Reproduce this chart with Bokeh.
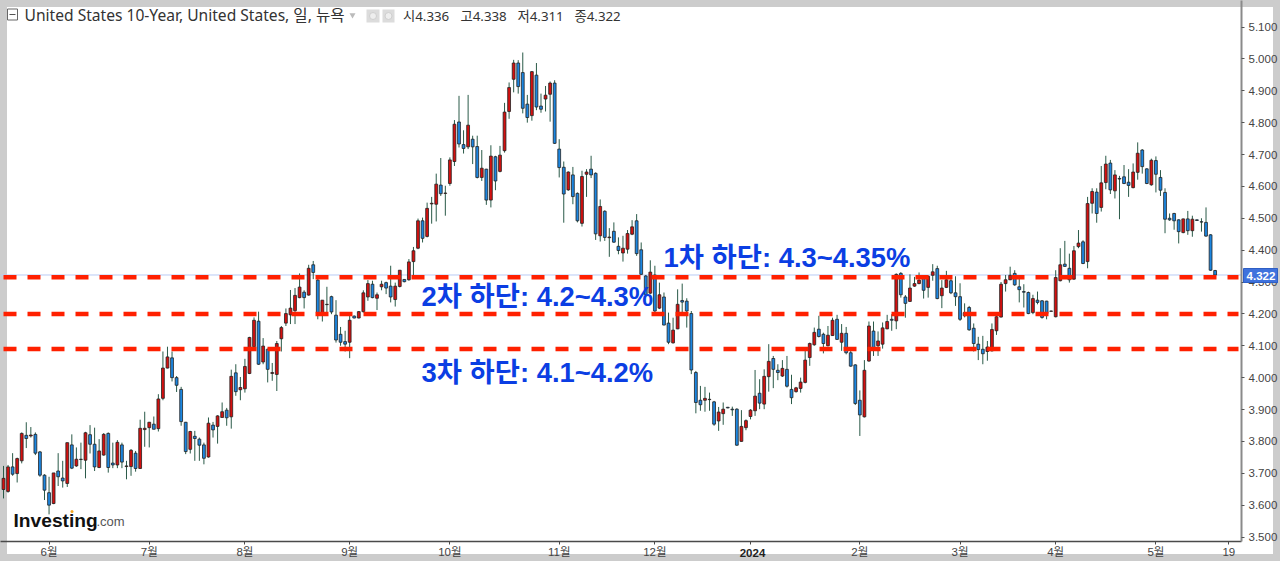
from bokeh.plotting import figure
from bokeh.models import (ColumnDataSource, FixedTicker, NumeralTickFormatter, Label,
                          LinearAxis, Range1d)
from bokeh.embed import file_html
from bokeh.resources import INLINE

opens = [
3.649,3.643,3.720,3.699,3.739,3.819,3.817,3.822,3.767,3.694,
3.639,3.605,3.707,3.685,3.668,3.789,3.723,3.743,3.741,3.821,
3.791,3.718,3.757,3.825,3.732,3.726,3.789,3.721,3.721,3.763,
3.715,3.837,3.843,3.854,3.840,3.935,4.030,4.062,4.000,3.963,
3.860,3.775,3.816,3.807,3.789,3.751,3.851,3.847,3.875,3.898,
3.877,4.015,3.962,3.965,4.013,4.097,4.177,4.049,4.089,4.013,
4.010,4.122,4.171,4.197,4.210,4.251,4.268,4.259,4.354,4.306,
4.204,4.229,4.254,4.196,4.136,4.113,4.111,4.193,4.187,4.207,
4.253,4.293,4.249,4.285,4.298,4.287,4.245,4.286,4.308,4.307,
4.364,4.406,4.492,4.443,4.545,4.544,4.604,4.578,4.609,4.678,
4.802,4.731,4.724,4.748,4.725,4.628,4.654,4.557,4.693,4.647,
4.712,4.835,4.936,4.987,4.957,4.858,4.822,4.949,4.852,4.874,
4.889,4.924,4.717,4.660,4.589,4.636,4.578,4.484,4.638,4.654,
4.641,4.445,4.522,4.439,4.459,4.412,4.391,4.403,4.450,4.492,
4.401,4.319,4.265,4.322,4.218,4.253,4.171,4.109,4.153,4.242,
4.240,4.201,4.016,3.929,3.929,3.931,3.924,3.864,3.887,3.907,
3.901,3.901,3.800,3.843,3.878,3.896,3.951,3.917,4.003,4.060,
4.023,4.005,4.026,3.963,3.956,3.966,3.985,4.063,4.103,4.152,
4.136,4.100,4.132,4.183,4.111,4.139,4.078,4.040,3.929,3.877,
4.052,4.146,4.100,4.105,4.153,4.183,4.178,4.327,4.253,4.239,
4.287,4.295,4.317,4.283,4.321,4.342,4.257,4.283,4.304,4.266,
4.254,4.204,4.220,4.155,4.105,4.089,4.082,4.084,4.147,4.190,
4.295,4.307,4.327,4.285,4.270,4.267,4.204,4.243,4.241,4.240,
4.208,4.191,4.304,4.356,4.343,4.309,4.411,4.426,4.364,4.547,
4.582,4.534,4.612,4.673,4.586,4.625,4.630,4.613,4.596,4.644,
4.714,4.655,4.605,4.681,4.628,4.581,4.500,4.515,4.495,4.455,
4.498,4.461,4.495,4.489,4.487,4.448,4.336,
]
highs = [
3.723,3.726,3.763,3.749,3.828,3.860,3.845,3.828,3.770,3.697,
3.689,3.701,3.763,3.739,3.796,3.822,3.781,3.796,3.830,3.851,
3.843,3.807,3.826,3.828,3.796,3.804,3.796,3.739,3.776,3.770,
3.868,3.893,3.861,3.878,3.948,4.082,4.097,4.082,4.005,3.971,
3.861,3.833,3.833,3.812,3.796,3.875,3.861,3.882,3.922,3.905,
4.025,4.042,4.002,4.059,4.128,4.189,4.207,4.124,4.091,4.046,
4.115,4.162,4.217,4.275,4.281,4.327,4.274,4.354,4.366,4.319,
4.243,4.285,4.257,4.243,4.159,4.147,4.194,4.195,4.209,4.274,
4.306,4.304,4.267,4.304,4.301,4.351,4.298,4.337,4.309,4.372,
4.410,4.499,4.502,4.549,4.567,4.640,4.689,4.602,4.691,4.808,
4.884,4.776,4.887,4.759,4.759,4.714,4.655,4.729,4.696,4.727,
4.862,4.926,4.997,4.996,5.020,4.887,4.962,4.987,4.891,4.915,
4.929,4.933,4.748,4.678,4.647,4.661,4.581,4.649,4.654,4.696,
4.644,4.559,4.525,4.469,4.487,4.440,4.445,4.463,4.494,4.513,
4.424,4.322,4.368,4.351,4.298,4.267,4.204,4.188,4.277,4.295,
4.249,4.209,4.021,3.974,3.971,3.953,3.927,3.908,3.922,3.908,
3.909,3.904,3.898,3.869,3.901,4.024,3.995,4.026,4.105,4.068,
4.042,4.055,4.068,4.009,3.971,4.000,4.084,4.110,4.157,4.194,
4.141,4.162,4.188,4.197,4.168,4.159,4.094,4.042,3.960,4.055,
4.176,4.176,4.145,4.173,4.197,4.199,4.327,4.331,4.259,4.324,
4.316,4.330,4.319,4.320,4.356,4.351,4.306,4.335,4.309,4.318,
4.296,4.233,4.225,4.170,4.128,4.131,4.115,4.170,4.201,4.300,
4.322,4.348,4.337,4.319,4.293,4.270,4.260,4.270,4.243,4.241,
4.210,4.337,4.406,4.429,4.389,4.413,4.463,4.431,4.567,4.594,
4.594,4.664,4.696,4.683,4.651,4.633,4.667,4.654,4.672,4.738,
4.717,4.657,4.687,4.694,4.651,4.594,4.515,4.517,4.497,4.499,
4.523,4.508,4.496,4.500,4.534,4.450,4.338,
]
lows = [
3.621,3.639,3.692,3.671,3.731,3.779,3.812,3.757,3.689,3.616,
3.571,3.603,3.660,3.655,3.657,3.713,3.720,3.713,3.684,3.762,
3.707,3.716,3.755,3.702,3.716,3.716,3.716,3.681,3.692,3.705,
3.714,3.783,3.781,3.838,3.831,3.929,4.029,3.988,3.955,3.849,
3.760,3.762,3.739,3.739,3.728,3.749,3.812,3.793,3.875,3.849,
3.840,3.943,3.929,3.953,4.011,4.084,4.040,4.042,3.985,3.990,
3.958,4.082,4.162,4.168,4.168,4.249,4.217,4.257,4.309,4.183,
4.176,4.199,4.199,4.110,4.100,4.082,4.061,4.186,4.186,4.204,
4.241,4.249,4.212,4.274,4.262,4.236,4.223,4.283,4.299,4.304,
4.319,4.403,4.424,4.440,4.483,4.490,4.570,4.508,4.602,4.664,
4.722,4.703,4.717,4.670,4.625,4.617,4.542,4.534,4.588,4.644,
4.706,4.812,4.895,4.891,4.829,4.800,4.806,4.839,4.831,4.835,
4.803,4.733,4.628,4.486,4.586,4.544,4.487,4.474,4.567,4.626,
4.432,4.427,4.429,4.379,4.423,4.387,4.364,4.389,4.447,4.382,
4.322,4.256,4.262,4.204,4.215,4.164,4.105,4.107,4.152,4.204,
4.157,4.011,3.888,3.896,3.893,3.896,3.849,3.833,3.852,3.904,
3.880,3.786,3.799,3.835,3.869,3.880,3.901,3.901,3.956,3.967,
3.992,4.002,3.969,3.917,3.953,3.953,3.982,4.037,4.100,4.126,
4.076,4.098,4.131,4.118,4.084,4.073,4.034,3.914,3.817,3.875,
4.050,4.068,4.068,4.091,4.152,4.147,4.152,4.251,4.188,4.238,
4.285,4.293,4.248,4.251,4.304,4.246,4.218,4.281,4.262,4.225,
4.178,4.189,4.147,4.082,4.055,4.042,4.053,4.082,4.134,4.189,
4.270,4.306,4.288,4.236,4.220,4.199,4.199,4.230,4.185,4.183,
4.207,4.189,4.302,4.348,4.298,4.307,4.406,4.356,4.343,4.515,
4.486,4.521,4.591,4.576,4.562,4.497,4.607,4.567,4.594,4.621,
4.640,4.607,4.602,4.581,4.570,4.453,4.492,4.464,4.421,4.453,
4.448,4.442,4.492,4.458,4.442,4.335,4.311,
]
closes = [
3.684,3.720,3.697,3.746,3.825,3.809,3.820,3.763,3.694,3.647,
3.600,3.701,3.689,3.676,3.796,3.716,3.744,3.744,3.827,3.791,
3.720,3.770,3.822,3.718,3.726,3.797,3.735,3.723,3.772,3.715,
3.841,3.841,3.860,3.838,3.933,4.030,4.065,4.000,3.976,3.862,
3.768,3.831,3.809,3.788,3.747,3.857,3.836,3.880,3.893,3.874,
4.004,3.956,3.969,4.035,4.126,4.180,4.042,4.099,4.026,4.016,
4.107,4.157,4.201,4.218,4.258,4.284,4.251,4.343,4.330,4.204,
4.243,4.230,4.206,4.118,4.111,4.105,4.180,4.187,4.207,4.266,
4.295,4.251,4.260,4.293,4.281,4.253,4.287,4.337,4.301,4.363,
4.398,4.492,4.437,4.531,4.547,4.607,4.577,4.579,4.683,4.795,
4.733,4.719,4.792,4.724,4.628,4.657,4.557,4.695,4.617,4.698,
4.833,4.910,4.987,4.913,4.845,4.816,4.960,4.849,4.842,4.886,
4.924,4.735,4.659,4.576,4.645,4.568,4.492,4.631,4.645,4.636,
4.451,4.537,4.440,4.441,4.425,4.399,4.406,4.452,4.473,4.389,
4.324,4.260,4.331,4.209,4.260,4.165,4.111,4.149,4.230,4.237,
4.209,4.024,3.922,3.915,3.935,3.932,3.854,3.892,3.901,3.905,
3.899,3.788,3.847,3.865,3.898,3.942,3.920,4.004,4.051,4.026,
4.016,4.029,3.973,3.937,3.968,3.986,4.055,4.107,4.142,4.129,
4.107,4.133,4.180,4.120,4.139,4.078,4.036,3.919,3.883,4.023,
4.162,4.094,4.115,4.156,4.176,4.180,4.324,4.260,4.233,4.281,
4.295,4.306,4.274,4.318,4.332,4.248,4.281,4.307,4.266,4.254,
4.183,4.194,4.150,4.107,4.088,4.075,4.096,4.151,4.191,4.293,
4.307,4.321,4.291,4.276,4.268,4.201,4.248,4.236,4.189,4.201,
4.209,4.314,4.354,4.349,4.307,4.398,4.422,4.358,4.546,4.584,
4.515,4.611,4.670,4.589,4.636,4.623,4.609,4.603,4.645,4.704,
4.662,4.609,4.682,4.638,4.588,4.497,4.495,4.492,4.458,4.498,
4.461,4.497,4.493,4.488,4.444,4.337,4.322,
]

y_tick_values = [3.5,3.6,3.7,3.8,3.9,4.0,4.1,4.2,4.3,4.4,4.5,4.6,4.7,4.8,4.9,5.0,5.1]
x_tick_index = [10,32,53,76,98,122,143,164,188,210,231,253,269]
x_tick_names = ["6월","7월","8월","9월","10월","11월","12월","","2월","3월","4월","5월","19"]
year_name = "2024"
support_levels = [4.315,4.2,4.09]
last_price = 4.322

n = min(len(opens),len(highs),len(lows),len(closes))
idx = list(range(n))

# pixel <-> data helpers for page furniture only
PXW, PXH = 1280, 561
AX_R, AX_B = 1241, 541
def X(px): return (px-3)/4.555
def Y(py): return 4.7-(py-155)/318.75

KR = '"Liberation Sans", "Noto Sans CJK KR"'
HD = '"Noto Sans", "Noto Sans CJK KR"'
GR = "#cccccc"
band = f"linear-gradient({GR},{GR})"

p = figure(width=PXW, height=PXH, output_backend="svg", toolbar_location=None,
           x_range=Range1d(X(0),X(AX_R)), y_range=Range1d(Y(AX_B+1),Y(1)),
           x_axis_location=None, y_axis_location=None,
           min_border_left=0,min_border_top=0,min_border_right=PXW-AX_R,min_border_bottom=PXH-AX_B,
           border_fill_color=None, background_fill_color=None, outline_line_color=None)
p.styles = {"position":"absolute","left":"0px","top":"0px",
            "background":f"{band} 0 0/100% 7px no-repeat, {band} 0 100%/100% 7px no-repeat, "
                         f"{band} 0 0/7px 100% no-repeat, {band} 100% 0/7px 100% no-repeat, #ffffff"}
p.grid.visible = False

xax = LinearAxis(ticker=FixedTicker(ticks=x_tick_index),
                 major_label_overrides={i:s for i,s in zip(x_tick_index,x_tick_names)})
xax.axis_line_color="#4a4a4a"; xax.axis_line_width=1.5
xax.major_tick_line_color="#4a4a4a"; xax.major_tick_out=3; xax.major_tick_in=0
xax.minor_tick_line_color=None
xax.major_label_text_font=KR; xax.major_label_text_font_size="11.5px"; xax.major_label_text_color="#444444"
xax.major_label_standoff=1
p.add_layout(xax,"below")

yax = LinearAxis(ticker=FixedTicker(ticks=y_tick_values), formatter=NumeralTickFormatter(format="0.000"))
yax.axis_line_color="#8a8a8a"; yax.axis_line_width=2
yax.major_tick_line_color="#555555"; yax.major_tick_out=3; yax.major_tick_in=0
yax.minor_tick_line_color=None
yax.major_label_text_font="Liberation Sans"; yax.major_label_text_font_size="11.5px"; yax.major_label_text_color="#444444"
yax.major_label_standoff=4
p.add_layout(yax,"right")

p.line([X(0),X(AX_R)],[last_price,last_price],line_color="#b9cbf5",line_width=1)

up = [c>=o for o,c in zip(opens,closes)]
src = ColumnDataSource(dict(
    x=idx, h=highs[:n], l=lows[:n],
    top=[max(o,c) for o,c in zip(opens,closes)],
    bottom=[min(o,c) for o,c in zip(opens,closes)],
    fill=["#d4100f" if u else "#1c86e0" for u in up],
))
p.segment("x","h","x","l",source=src,line_color="#2a5a48",line_width=1)
p.vbar(x="x",top="top",bottom="bottom",width=0.62,source=src,fill_color="fill",line_color="#222222",line_width=0.8)

for lv in support_levels:
    p.line([X(3),X(1238)],[lv,lv],line_color="#ff2000",line_width=4.5,line_dash="13 11",line_cap="butt")

def lab(x,y,t,size,color,font=KR,style="normal",align="left",level="annotation"):
    p.add_layout(Label(x=X(x),y=Y(y),text=t,text_font=font,text_font_size=f"{size}px",text_color=color,
                       text_font_style=style,text_align=align,text_baseline="middle",level=level))

BL="#0b3ee3"
lab(663,258,"1차 하단: 4.3~4.35%",27.4,BL,style="bold")
lab(421,297,"2차 하단: 4.2~4.3%",27.4,BL,style="bold")
lab(421,373,"3차 하단: 4.1~4.2%",27.4,BL,style="bold")

# header
lab(24,15.5,"United States 10-Year, United States, 일, 뉴욕",15.6,"#333333",font=HD)
p.quad(left=[X(7)],right=[X(17)],top=[Y(9.5)],bottom=[Y(20.5)],fill_color="white",line_color="#666666",line_width=1)
p.line([X(9),X(15)],[Y(15),Y(15)],line_color="#555555",line_width=1)
p.scatter([X(352)],[Y(15.5)],marker="inverted_triangle",size=6,fill_color="#bbbbbb",line_color=None)
for l,r in [(366,379),(382,394)]:
    p.quad(left=[X(l)],right=[X(r)],top=[Y(10)],bottom=[Y(23)],fill_color="#dcdcdc",line_color=None)
    p.scatter([X((l+r)/2)],[Y(16.5)],marker="circle",size=7,fill_color="#eeeeee",line_color="#cfcfcf")
for x,t in [(402.5,"시4.336"),(460,"고4.338"),(517,"저4.311"),(574,"종4.322")]:
    lab(x,16.5,t,13.3,"#333333",font=HD)

# logo
lab(13,520.5,"Investing",19.2,"#111111",font="Liberation Sans",style="bold")
lab(96,522,".com",13,"#555555",font="Liberation Sans")
p.scatter([X(71.5)],[Y(512)],marker="circle",size=3,fill_color="#f5a623",line_color=None)

def chip(left,top,w,h,text,fg,bg,line,bold=True):
    """A small text figure placed over the margins, where the main plot clips its annotations."""
    f = figure(width=w,height=h,output_backend="svg",toolbar_location=None,
               x_range=Range1d(0,1),y_range=Range1d(0,1),x_axis_location=None,y_axis_location=None,
               min_border=0,min_border_left=0,min_border_right=0,min_border_top=0,min_border_bottom=0,
               border_fill_color=None,background_fill_color=bg,outline_line_color=line)
    f.grid.visible=False
    f.styles={"position":"absolute","left":f"{left}px","top":f"{top}px"}
    f.add_layout(Label(x=0.5,y=0.48,text=text,text_font="Liberation Sans",text_font_size="11.5px",text_color=fg,
                       text_font_style="bold" if bold else "normal",text_align="center",text_baseline="middle"))
    return f

tag = chip(1243,268,35,15,f"{last_price:.3f}","white","#3f72dd","#2f5fc4")
year = chip(734,545,36,14,year_name,"#222222",None,None)

open("out.html","w").write(file_html([p,tag,year],INLINE))
